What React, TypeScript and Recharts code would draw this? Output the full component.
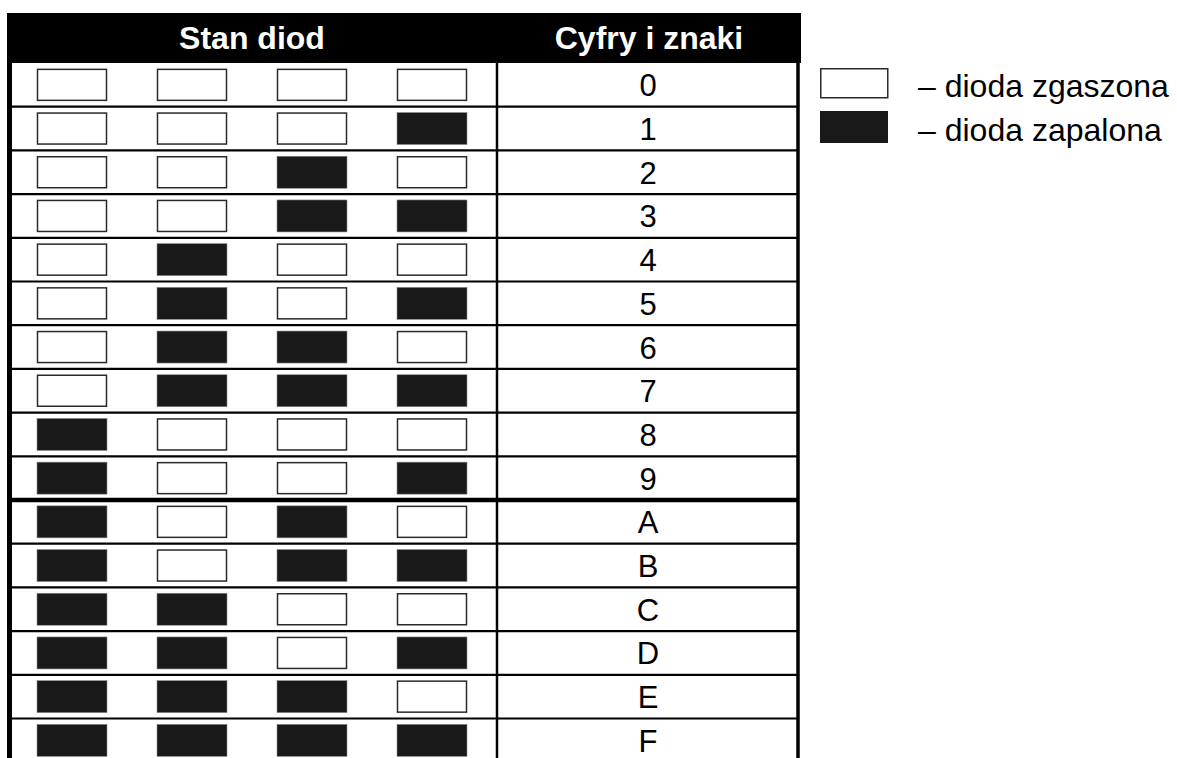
import { Legend, ReferenceArea, ReferenceLine, Scatter, ScatterChart, XAxis, YAxis } from "recharts";

const FONT = '"Liberation Sans", Arial, Helvetica, sans-serif';

// one row per symbol, four LEDs per row (1 = lit)
const symbols = ["0", "1", "2", "3", "4", "5", "6", "7", "8", "9", "A", "B", "C", "D", "E", "F"];
const ledStates = [
  [0, 0, 0, 0],
  [0, 0, 0, 1],
  [0, 0, 1, 0],
  [0, 0, 1, 1],
  [0, 1, 0, 0],
  [0, 1, 0, 1],
  [0, 1, 1, 0],
  [0, 1, 1, 1],
  [1, 0, 0, 0],
  [1, 0, 0, 1],
  [1, 0, 1, 0],
  [1, 0, 1, 1],
  [1, 1, 0, 0],
  [1, 1, 0, 1],
  [1, 1, 1, 0],
  [1, 1, 1, 1],
];
const headerLabels = ["Stan diod", "Cyfry i znaki"];
const legendLabels = ["– dioda zgaszona", "– dioda zapalona"];

const WIDTH = 1177;
const HEIGHT = 758;
const MARGIN_TOP = 13;
const COL_PITCH = 120;
const ROW_PITCH = 43.7;
const HEADER_PX = 50;

// x axis in "LED column" units, y axis in "row" units
const X_MIN = -0.6;
const X_MAX = X_MIN + WIDTH / COL_PITCH;
const Y_MIN = -0.5 - HEADER_PX / ROW_PITCH;
const Y_MAX = Y_MIN + (HEIGHT - MARGIN_TOP) / ROW_PITCH;
const colAt = (px: number) => X_MIN + px / COL_PITCH;

const TABLE_LEFT = colAt(7);
const TABLE_MID = colAt(497);
const TABLE_RIGHT = colAt(801);
const SYMBOL_COL = 4.8;

type Pt = { col: number; row: number; text?: string };

const offPoints: Pt[] = [];
const onPoints: Pt[] = [];
ledStates.forEach((leds, row) =>
  leds.forEach((lit, col) => (lit ? onPoints : offPoints).push({ col, row }))
);
const symbolPoints: Pt[] = symbols.map((text, row) => ({ col: SYMBOL_COL, row, text }));

function LedOff(props: any) {
  const { cx, cy } = props;
  return (
    <rect x={cx - 34.5} y={cy - 15.5} width={69} height={31} fill="#ffffff" stroke="#2a2a2a" strokeWidth={1.5} />
  );
}

function LedOn(props: any) {
  const { cx, cy } = props;
  return (
    <rect x={cx - 35} y={cy - 16} width={70} height={32} fill="#181918" stroke="#8a8a8a" strokeWidth={0.6} />
  );
}

function SymbolText(props: any) {
  const { cx, cy, payload } = props;
  return (
    <text x={cx} y={cy + 11.5} textAnchor="middle" fontSize={31} fontFamily={FONT} fill="#000">
      {payload.text}
    </text>
  );
}

function LegendBox() {
  return (
    <svg width={357} height={90} style={{ display: "block" }}>
      <rect x={0.75} y={3.75} width={67} height={29} fill="#fff" stroke="#2a2a2a" strokeWidth={1.5} />
      <rect x={0} y={46} width={68} height={32} fill="#181918" />
      {legendLabels.map((label, i) => (
        <text key={label} x={98} y={32 + i * 44} fontSize={32} fontFamily={FONT} fill="#000">
          {label}
        </text>
      ))}
    </svg>
  );
}

const rowRules = symbols.slice(1).map((_, i) => i + 0.5);

export default function App() {
  return (
    <div style={{ position: "absolute", left: 0, top: 0, background: "#fff" }}>
      <ScatterChart
        width={WIDTH}
        height={HEIGHT}
        margin={{ top: MARGIN_TOP, right: 0, bottom: 0, left: 0 }}
        style={{ fontFamily: FONT }}
      >
        <XAxis type="number" dataKey="col" domain={[X_MIN, X_MAX]} hide allowDataOverflow />
        <YAxis type="number" dataKey="row" domain={[Y_MIN, Y_MAX]} reversed hide allowDataOverflow />
        <ReferenceArea
          x1={TABLE_LEFT}
          x2={TABLE_MID}
          y1={Y_MIN}
          y2={-0.5}
          fill="#000"
          fillOpacity={1}
          stroke="none"
          label={{ value: headerLabels[0], position: "center", fill: "#fff", fontSize: 32, fontWeight: 700, fontFamily: FONT }}
        />
        <ReferenceArea
          x1={TABLE_MID}
          x2={TABLE_RIGHT}
          y1={Y_MIN}
          y2={-0.5}
          fill="#000"
          fillOpacity={1}
          stroke="none"
          label={{ value: headerLabels[1], position: "center", fill: "#fff", fontSize: 32, fontWeight: 700, fontFamily: FONT }}
        />
        {rowRules.map((y) => (
          <ReferenceLine
            key={y}
            segment={[
              { x: TABLE_LEFT, y },
              { x: colAt(799), y },
            ]}
            stroke="#000"
            strokeWidth={y === 9.5 ? 4.5 : 2.2}
          />
        ))}
        <ReferenceLine segment={[{ x: colAt(9.5), y: -0.5 }, { x: colAt(9.5), y: Y_MAX }]} stroke="#000" strokeWidth={5} />
        <ReferenceLine segment={[{ x: colAt(497), y: -0.5 }, { x: colAt(497), y: Y_MAX }]} stroke="#000" strokeWidth={2.5} />
        <ReferenceLine segment={[{ x: colAt(798), y: -0.5 }, { x: colAt(798), y: Y_MAX }]} stroke="#000" strokeWidth={3.5} />
        <Scatter name={legendLabels[0]} data={offPoints} shape={LedOff} isAnimationActive={false} />
        <Scatter name={legendLabels[1]} data={onPoints} shape={LedOn} isAnimationActive={false} />
        <Scatter name="symbols" data={symbolPoints} shape={SymbolText} legendType="none" isAnimationActive={false} />
        <Legend
          layout="vertical"
          align="center"
          verticalAlign="middle"
          wrapperStyle={{ left: 820, top: 65, width: 357, height: 90 }}
          content={() => <LegendBox />}
        />
      </ScatterChart>
    </div>
  );
}
